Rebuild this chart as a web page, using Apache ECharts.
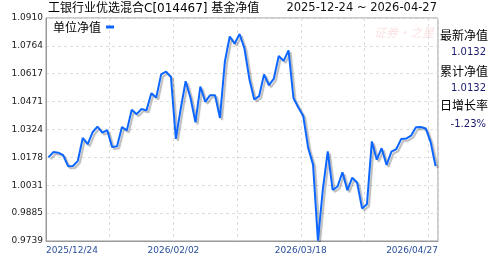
<!DOCTYPE html>
<html>
<head>
<meta charset="utf-8">
<script src="https://cdn.jsdelivr.net/npm/echarts@6/dist/echarts.min.js"></script>
<style>
html,body{margin:0;padding:0;background:#fff;}
#chart{width:488px;height:255px;}
</style>
</head>
<body>
<div id="chart"></div>
<script>
// ---- data ----
const titleText = '工银行业优选混合C[014467] 基金净值';
const rangeText = '2025-12-24 ~ 2026-04-27';
const seriesName = '单位净值';
const dates = [
 '2025/12/24','2025/12/25','2025/12/26','2025/12/29','2025/12/30','2025/12/31',
 '2026/01/05','2026/01/06','2026/01/07','2026/01/08','2026/01/09',
 '2026/01/12','2026/01/13','2026/01/14','2026/01/15','2026/01/16',
 '2026/01/19','2026/01/20','2026/01/21','2026/01/22','2026/01/23',
 '2026/01/26','2026/01/27','2026/01/28','2026/01/29','2026/01/30',
 '2026/02/02','2026/02/03','2026/02/04','2026/02/05','2026/02/06',
 '2026/02/09','2026/02/10','2026/02/11','2026/02/12','2026/02/13',
 '2026/02/24','2026/02/25','2026/02/26','2026/02/27',
 '2026/03/02','2026/03/03','2026/03/04','2026/03/05','2026/03/06',
 '2026/03/09','2026/03/10','2026/03/11','2026/03/12','2026/03/13',
 '2026/03/16','2026/03/17','2026/03/18','2026/03/19','2026/03/20',
 '2026/03/23','2026/03/24','2026/03/25','2026/03/26','2026/03/27',
 '2026/03/30','2026/03/31',
 '2026/04/01','2026/04/02','2026/04/03',
 '2026/04/07','2026/04/08','2026/04/09','2026/04/10',
 '2026/04/13','2026/04/14','2026/04/15','2026/04/16','2026/04/17',
 '2026/04/20','2026/04/21','2026/04/22','2026/04/23','2026/04/24',
 '2026/04/27'
];
const navValues = [
 1.0178,1.0206,1.0203,1.0190,1.0132,1.0133,
 1.0160,1.0280,1.0247,1.0310,1.0340,
 1.0308,1.0321,1.0232,1.0236,1.0337,
 1.0320,1.0428,1.0405,1.0432,1.0425,
 1.0515,1.0492,1.0614,1.0628,1.0600,
 1.0275,1.0435,1.0578,1.0490,1.0362,
 1.0550,1.0470,1.0505,1.0505,1.0385,
 1.0680,1.0813,1.0775,1.0826,
 1.0750,1.0590,1.0482,1.0500,1.0614,
 1.0557,1.0592,1.0710,1.0685,1.0740,
 1.0490,1.0440,1.0395,1.0228,1.0140,
 0.9741,1.0010,1.0210,1.0007,1.0025,
 1.0100,1.0005,
 1.0072,1.0045,0.9910,
 0.9932,1.0262,1.0166,1.0226,
 1.0138,1.0208,1.0222,1.0275,1.0277,
 1.0292,1.0336,1.0338,1.0330,1.0258,
 1.0132
];
const yTickLabels = ['0.9739','0.9885','1.0031','1.0178','1.0324','1.0471','1.0617','1.0764','1.0910'];
const xTickLabels = ['2025/12/24','2026/02/02','2026/03/18','2026/04/27'];
const infoLabels = ['最新净值','累计净值','日增长率'];
const infoValues = ['1.0132','1.0132','-1.23%'];

// ---- chart ----
const latin = "'DejaVu Sans','Noto Sans CJK SC'";
const cjk = "'Noto Sans CJK SC'";
const yMin = parseFloat(yTickLabels[0]);
const yMax = parseFloat(yTickLabels[yTickLabels.length - 1]);
const yInt = (yMax - yMin) / (yTickLabels.length - 1);
const xLabelPos = xTickLabels.map(l => {
  const i = dates.indexOf(l);
  return i === dates.length - 1 ? dates.length : i;
});

const graphics = [
  {type:'text', x:437, y:8, style:{text:rangeText, fill:'#111', font:"11.5px " + latin, textAlign:'right', textVerticalAlign:'middle'}},
  {type:'text', x:374, y:32, style:{text:'证券·之星', fill:'rgba(235,120,120,0.22)', font:"italic 12px " + cjk, textAlign:'left', textVerticalAlign:'middle'}}
];
const labelY = [35, 71.5, 105.7];
const valueY = [52, 88.5, 124];
infoLabels.forEach((t, k) => {
  graphics.push({type:'text', x:440, y:labelY[k], style:{text:t, fill:'#000', font:"12px " + cjk, textAlign:'left', textVerticalAlign:'middle'}});
  graphics.push({type:'text', x:486, y:valueY[k], style:{text:infoValues[k], fill:'#1a1a70', font:"10px " + latin, textAlign:'right', textVerticalAlign:'middle'}});
});

const chart = echarts.init(document.getElementById('chart'), null, {renderer:'canvas'});
chart.setOption({
  animation:false,
  backgroundColor:'#fff',
  title:{
    text:titleText, left:48, top:1, padding:0,
    textStyle:{fontSize:12, fontWeight:'normal', color:'#000', fontFamily:latin, lineHeight:15}
  },
  legend:{
    data:[seriesName], left:53, top:21, padding:0, align:'right',
    icon:'rect', itemWidth:8, itemHeight:3,
    textStyle:{fontSize:12, color:'#000', fontFamily:cjk}
  },
  grid:{left:46, right:50, top:18, bottom:14, show:true, borderColor:'#999', borderWidth:1, containLabel:false},
  xAxis:[
    {
      type:'category', data:dates, boundaryGap:true,
      axisLine:{show:true, lineStyle:{color:'#999'}},
      axisTick:{show:false},
      axisLabel:{show:false},
      splitLine:{show:true, interval:(i) => i > 0 && i % 13 === 0, lineStyle:{color:'#ddd', type:[3,3]}}
    },
    {
      type:'value', min:0, max:dates.length, position:'bottom',
      axisLine:{show:false}, axisTick:{show:false}, splitLine:{show:false},
      axisLabel:{
        show:true, customValues:xLabelPos, margin:5,
        alignMinLabel:'left', alignMaxLabel:'right',
        color:'#2a4f9c', fontSize:9, fontFamily:latin,
        formatter:(v) => xTickLabels[xLabelPos.indexOf(v)] || ''
      }
    }
  ],
  yAxis:{
    type:'value', min:yMin, max:yMax, interval:yInt,
    axisLine:{show:true, lineStyle:{color:'#999'}},
    axisTick:{show:false},
    axisLabel:{
      margin:3, color:'#222', fontSize:9, fontFamily:latin,
      formatter:(v) => yTickLabels[Math.round((v - yMin) / yInt)]
    },
    splitLine:{show:true, lineStyle:{color:'#ddd', type:[3,3]}}
  },
  graphic:graphics,
  series:[{
    name:seriesName, type:'line', data:navValues, xAxisIndex:0,
    symbol:'none', smooth:false,
    itemStyle:{color:'#0c66ff'},
    lineStyle:{color:'#0c66ff', width:2, shadowColor:'rgba(0,0,0,0.28)', shadowBlur:1, shadowOffsetX:2, shadowOffsetY:2}
  }]
});
</script>
</body>
</html>
